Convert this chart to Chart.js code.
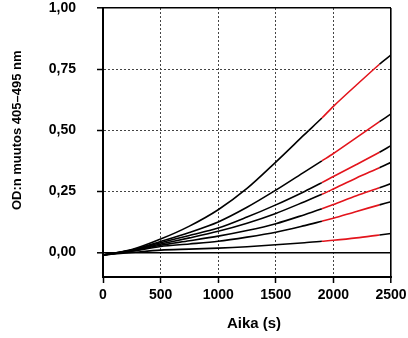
<!DOCTYPE html>
<html>
<head>
<meta charset="utf-8">
<script src="https://cdn.jsdelivr.net/npm/chart.js@4/dist/chart.umd.min.js"></script>
<style>
html,body{margin:0;padding:0;background:#fff;}
#wrap{width:408px;height:338px;}
</style>
</head>
<body>
<div id="wrap"><canvas id="chart"></canvas></div>
<script>

/* DATA */

let times = [0, 250, 500, 750, 1000, 1250, 1500, 1750, 1900, 2000, 2200, 2400, 2500];

let curve1 = [-0.01, 0.012, 0.055, 0.108, 0.175, 0.262, 0.37, 0.483, 0.55, 0.598, 0.685, 0.77, 0.808];
let curve2 = [-0.01, 0.010, 0.045, 0.082, 0.125, 0.185, 0.255, 0.33, 0.375, 0.405, 0.47, 0.535, 0.567];
let curve3 = [-0.01, 0.010, 0.040, 0.07, 0.10, 0.145, 0.195, 0.25, 0.286, 0.311, 0.36, 0.41, 0.437];
let curve4 = [-0.01, 0.008, 0.035, 0.06, 0.087, 0.12, 0.16, 0.208, 0.238, 0.26, 0.305, 0.347, 0.369];
let curve5 = [-0.01, 0.006, 0.030, 0.048, 0.067, 0.09, 0.118, 0.155, 0.179, 0.196, 0.232, 0.265, 0.282];
let curve6 = [-0.01, 0.005, 0.025, 0.035, 0.046, 0.063, 0.083, 0.11, 0.128, 0.14, 0.168, 0.195, 0.208];
let curve7 = [-0.01, 0.000, 0.010, 0.014, 0.018, 0.024, 0.032, 0.04, 0.046, 0.05, 0.06, 0.072, 0.078];

let curves = [curve1, curve2, curve3, curve4, curve5, curve6, curve7];

// fitted part of each curve (drawn red)
let fitStart = 1900;
let fitEnd = 2400;

let xTicks = [0, 500, 1000, 1500, 2000, 2500];
let yTicks = [0, 0.25, 0.5, 0.75, 1];

let xTitle = "Aika (s)";
let yTitle = "OD:n muutos 405\u2013495 nm";


/* CHART */

const FONT = "'Liberation Sans', Arial, sans-serif";

function fmt(v){
return v.toFixed(2).replace(".", ",");
}

function segColor(c){
if(c.p0.parsed.x >= fitStart && c.p1.parsed.x <= fitEnd) return "#e3141c";
return "#000";
}

let titles = {
id: "titles",
afterDraw(chart){
const {ctx, scales} = chart;
const x = scales.x, y = scales.y;
ctx.save();
ctx.fillStyle = "#000";
ctx.textAlign = "center";
ctx.textBaseline = "middle";

ctx.font = "bold 13px " + FONT;
let cy = (y.getPixelForValue(0) + y.getPixelForValue(1)) / 2;
ctx.translate(17, cy);
ctx.rotate(-Math.PI / 2);
ctx.fillText(yTitle, 0, 0);
ctx.setTransform(1, 0, 0, 1, 0, 0);

ctx.font = "bold 15px " + FONT;
ctx.fillText(xTitle, (x.left + x.right) / 2 + 7, 324);
ctx.restore();
}
};

let datasets = curves.map(c => ({
data: times.map((t, i) => ({x: t, y: c[i]})),
borderColor: "#000",
borderWidth: 1.6,
pointRadius: 0,
tension: 0.3,
segment: {borderColor: segColor}
}));

let chart = new Chart(document.getElementById("chart"), {
type: "line",
data: {datasets: datasets},
options: {
responsive: true,
maintainAspectRatio: false,
animation: false,
layout: {padding: {top: 8, right: 17, left: 0, bottom: 0}},
plugins: {legend: {display: false}, tooltip: {enabled: false}},
scales: {
x: {
type: "linear",
min: 0,
max: 2500,
afterBuildTicks: a => { a.ticks = xTicks.map(v => ({value: v})); },
afterFit: s => { s.height = 61; s.paddingLeft = 0; s.paddingRight = 0; },
ticks: {
color: "#000",
font: {family: FONT, size: 14, weight: "bold"},
padding: 4,
maxRotation: 0,
autoSkip: false,
callback: v => String(v)
},
grid: {
color: c => (c.tick && (c.tick.value === 0 || c.tick.value === 2500)) ? "#000" : "#444",
lineWidth: c => (c.tick && c.tick.value === 2500) ? 1.6 : 1,
tickLength: 6,
tickColor: "#000",
tickWidth: 1.5
},
border: {
color: "#000",
width: 2,
dash: c => (c.tick && c.tick.value > 0 && c.tick.value < 2500) ? [2, 2] : []
}
},
y: {
min: -0.1,
max: 1.0,
afterBuildTicks: a => { a.ticks = yTicks.map(v => ({value: v})); },
afterFit: s => { s.width = 103; s.paddingTop = 0; s.paddingBottom = 0; },
ticks: {
color: "#000",
font: {family: FONT, size: 14, weight: "bold"},
padding: 21,
callback: v => fmt(v)
},
grid: {
color: c => (c.tick && (c.tick.value === 0 || c.tick.value === 1)) ? "#000" : "#444",
lineWidth: c => (c.tick && (c.tick.value === 0 || c.tick.value === 1)) ? 1.6 : 1,
tickLength: 6,
tickColor: "#000",
tickWidth: 1.5
},
border: {
color: "#000",
width: 2,
dash: c => (c.tick && c.tick.value > 0 && c.tick.value < 1) ? [2, 2] : []
}
}
}
},
plugins: [titles]
});

</script>
</body>
</html>
